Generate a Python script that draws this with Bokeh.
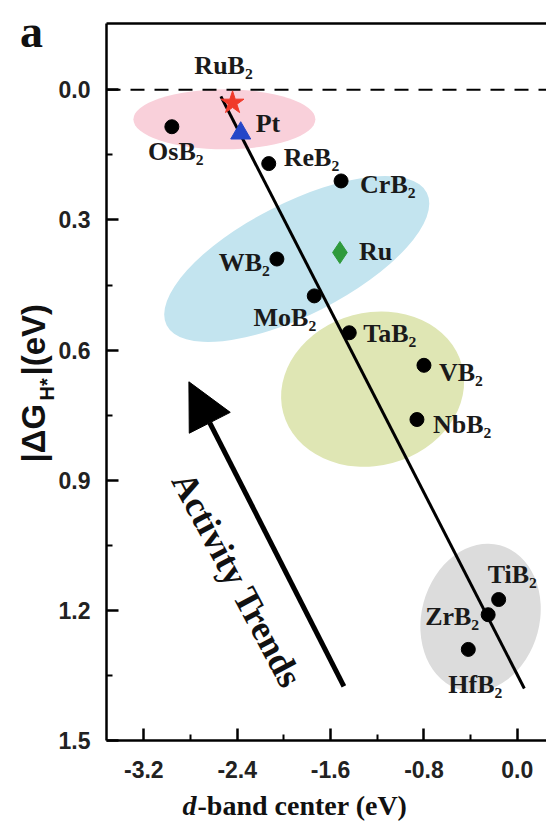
from bokeh.plotting import figure
from bokeh.models import (Range1d, FixedTicker, LinearAxis, Arrow, NormalHead,
                          Label, ColumnDataSource)
from bokeh.core.properties import value
from bokeh.embed import file_html
from bokeh.resources import INLINE

# ---------------- data ----------------
boride_names = ["OsB₂", "ReB₂", "CrB₂", "WB₂", "MoB₂", "TaB₂", "VB₂", "NbB₂", "TiB₂", "ZrB₂", "HfB₂"]
boride_d = [-2.96, -2.13, -1.51, -2.06, -1.74, -1.44, -0.80, -0.86, -0.16, -0.25, -0.42]
boride_dG = [0.085, 0.17, 0.21, 0.39, 0.475, 0.56, 0.635, 0.76, 1.175, 1.21, 1.29]

rub2_name = ["RuB₂"]
rub2_d = [-2.44]
rub2_dG = [0.03]

pt_name = ["Pt"]
pt_d = [-2.37]
pt_dG = [0.10]

ru_name = ["Ru"]
ru_d = [-1.52]
ru_dG = [0.375]

fit_d = [-2.54, 0.06]
fit_dG = [0.015, 1.38]

trend_start = (-1.486, 1.375)
trend_end = (-2.814, 0.673)

x_bounds = (-3.52, 0.25)
y_bounds = (-0.153, 1.5)
x_ticks = [-3.2, -2.4, -1.6, -0.8, 0.0]
x_tick_labels = ["-3.2", "-2.4", "-1.6", "-0.8", "0.0"]
x_minor = [-2.8, -2.0, -1.2, -0.4]
y_ticks = [0.0, 0.3, 0.6, 0.9, 1.2, 1.5]
y_tick_labels = ["0.0", "0.3", "0.6", "0.9", "1.2", "1.5"]
y_minor = [0.15, 0.45, 0.75, 1.05, 1.35]

# group ellipses (centres in data space)
ell_x = [-2.51, -1.89, -1.24, -0.315]
ell_y = [0.068, 0.39, 0.69, 1.217]
ell_colors = ["#f9d0da", "#c3e4ef", "#dfe6b4", "#dcdcdc"]

# ---------------- figure ----------------
# frame covers the whole canvas; axes are pinned with fixed_location
W, H = 546, 824
left_px, top_px, bottom_px = 106, 23, 84
xs = (x_bounds[1] - x_bounds[0]) / (W - left_px)
ys = (y_bounds[1] - y_bounds[0]) / (H - top_px - bottom_px)
p = figure(width=W, height=H, output_backend="svg", toolbar_location=None,
           x_axis_location=None, y_axis_location=None,
           x_range=Range1d(x_bounds[0] - left_px * xs, x_bounds[1]),
           y_range=Range1d(y_bounds[1] + bottom_px * ys, y_bounds[0] - top_px * ys),
           min_border=0)
p.grid.visible = False
p.outline_line_color = None
p.background_fill_color = "white"
p.border_fill_color = "white"

xaxis = LinearAxis(fixed_location=y_bounds[1], bounds=x_bounds,
                   ticker=FixedTicker(ticks=x_ticks, minor_ticks=x_minor),
                   major_label_overrides=dict(zip(x_ticks, x_tick_labels)),
                   major_label_standoff=20)
yaxis = LinearAxis(fixed_location=x_bounds[0], bounds=y_bounds,
                   ticker=FixedTicker(ticks=y_ticks, minor_ticks=y_minor),
                   major_label_overrides=dict(zip(y_ticks, y_tick_labels)),
                   major_label_standoff=16)
for ax in (xaxis, yaxis):
    ax.axis_line_width = 2.5
    ax.major_tick_in = 12
    ax.major_tick_out = 0
    ax.minor_tick_in = 6
    ax.minor_tick_out = 0
    ax.major_tick_line_width = 2.5
    ax.minor_tick_line_width = 2
    ax.major_label_text_font = "Liberation Sans"
    ax.major_label_text_font_style = "bold"
    ax.major_label_text_font_size = "23px"
    ax.major_label_text_color = "#222222"
p.add_layout(xaxis, "below")
p.add_layout(yaxis, "left")

top = LinearAxis(fixed_location=y_bounds[0], bounds=x_bounds, ticker=FixedTicker(ticks=[]),
                 axis_line_width=2.5, major_tick_in=0, major_tick_out=0,
                 minor_tick_in=0, minor_tick_out=0,
                 major_label_text_font_size="0px", major_label_standoff=0)
p.add_layout(top, "above")

# ellipses
p.ellipse(x=ell_x, y=ell_y, width=[182, 292, 185, 150], height=[60, 112, 153, 118],
          angle=[0, 27, 15, 75], angle_units="deg",
          width_units="screen", height_units="screen",
          fill_color=ell_colors, line_color=None)

# zero line
p.line(x=list(x_bounds), y=[0, 0], line_dash="14 10", line_width=2, line_color="black")

# fit line
p.line(fit_d, fit_dG, line_width=3, line_color="black")

# activity arrow
p.add_layout(Arrow(end=NormalHead(size=46, fill_color="black", line_color="black"),
                   x_start=trend_start[0], y_start=trend_start[1],
                   x_end=trend_end[0], y_end=trend_end[1],
                   line_width=5, line_color="black"))
p.text(x=[-2.40], y=[1.13], text=["Activity Trends"], angle=-62, angle_units="deg",
       text_align="center", text_baseline="middle",
       text_font=value("Liberation Serif"), text_font_style="bold",
       text_font_size="36px", text_color="#111111")

# markers
p.scatter(boride_d, boride_dG, marker="circle", size=14, fill_color="black", line_color="black")
p.scatter(rub2_d, rub2_dG, marker="star", size=24, fill_color="#f03a2a", line_color="#f03a2a")
p.scatter(pt_d, pt_dG, marker="triangle", size=20, fill_color="#2446c8", line_color="#2446c8")
p.scatter(ru_d, ru_dG, marker="diamond", size=22, fill_color="#2f9a3c", line_color="#2f9a3c")

# point labels
lab_names = boride_names + rub2_name + pt_name + ru_name
lab_d = boride_d + rub2_d + pt_d + ru_d
lab_dG = boride_dG + rub2_dG + pt_dG + ru_dG
lab_xoff = [4, 15, 19, -7, 2, 14, 15, 16, -11, -9, 7, -9, 15, 19]
lab_yoff = [25, -6, 4, 3, 22, 1, 7, 5, -25, 2, 35, -37, -10, -1]
lab_align = ["center", "left", "left", "right", "right", "left", "left", "left",
             "left", "right", "center", "center", "left", "left"]
src = ColumnDataSource(dict(x=lab_d, y=lab_dG, text=lab_names, xo=lab_xoff, yo=lab_yoff,
                            al=lab_align))
p.text(x="x", y="y", text="text", x_offset="xo", y_offset="yo", text_align="al",
       text_baseline="alphabetic", source=src,
       text_font=value("Liberation Serif"), text_font_style="bold",
       text_font_size="26px", text_color="#1a1a1a")

# panel letter and axis titles (screen units from the canvas bottom-left)
def lab(text, x, y, font, style, size, angle=0, align="left"):
    p.add_layout(Label(x=x, y=y, x_units="screen", y_units="screen", text=text,
                       angle=angle, angle_units="deg", text_align=align,
                       text_baseline="alphabetic", text_font=font,
                       text_font_style=style, text_font_size=size, text_color="#111111"))

lab("a", 31, 793, "Liberation Serif", "bold", "46px", align="center")
lab("d", 182, 19, "Liberation Serif", "bold italic", "28px")
lab("-band center (eV)", 197, 19, "Liberation Serif", "bold", "28px")

lab("|ΔG", 33, 362, "Liberation Sans", "bold", "33px", angle=90)
lab("H*", 46, 424, "Liberation Sans", "bold", "20px", angle=90)
lab("|(eV)", 33, 449, "Liberation Sans", "bold", "33px", angle=90)

open("out.html", "w").write(file_html(p, INLINE))
